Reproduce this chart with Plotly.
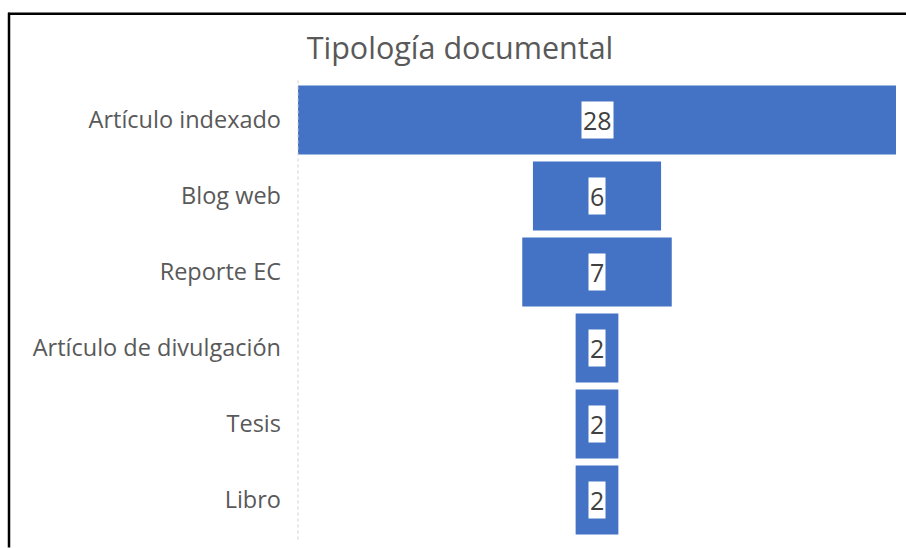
import plotly.graph_objects as go

categories = ["Artículo indexado", "Blog web", "Reporte EC", "Artículo de divulgación", "Tesis", "Libro"]
values = [28, 6, 7, 2, 2, 2]
title_text = "Tipología documental"

W, H = 906, 548
ml, mr, mt, mb = 298, 10, 81.5, 9.5
pw, ph = W - ml - mr, H - mt - mb

def px_to_paper_x(px):
    return (px - ml) / pw

def px_to_paper_y(py):
    return 1 - (py - mt) / ph

fig = go.Figure()
fig.add_trace(go.Funnel(
    y=categories,
    x=values,
    orientation="h",
    marker=dict(color="#4472C4", line=dict(width=0)),
    connector=dict(visible=False),
    textinfo="none",
    hoverinfo="x+y",
))

for c, v in zip(categories, values):
    fig.add_annotation(
        x=0, y=c, xref="x", yref="y",
        text=str(v), showarrow=False,
        font=dict(family="Open Sans", size=25, color="#404040"),
        bgcolor="white", borderpad=1,
    )

shapes = [
    # dotted axis line
    dict(type="line", xref="paper", yref="paper",
         x0=px_to_paper_x(298), x1=px_to_paper_x(298),
         y0=px_to_paper_y(80), y1=px_to_paper_y(541),
         line=dict(color="#d0d0d0", width=1, dash="dot")),
    # frame top
    dict(type="line", xref="paper", yref="paper",
         x0=px_to_paper_x(8), x1=px_to_paper_x(906),
         y0=px_to_paper_y(13), y1=px_to_paper_y(13),
         line=dict(color="black", width=2.5)),
    # frame left
    dict(type="line", xref="paper", yref="paper",
         x0=px_to_paper_x(9), x1=px_to_paper_x(9),
         y0=px_to_paper_y(12), y1=px_to_paper_y(548),
         line=dict(color="black", width=2.5)),
]

fig.update_layout(
    width=W, height=H,
    margin=dict(l=ml, r=mr, t=mt, b=mb, pad=0),
    paper_bgcolor="white", plot_bgcolor="white",
    showlegend=False,
    funnelgap=0.09,
    title=dict(text=title_text, x=460 / W, xanchor="center",
               y=1 - 48 / H, yanchor="middle",
               font=dict(family="Open Sans", size=30.5, color="#595959")),
    xaxis=dict(range=[-14, 14], visible=False, fixedrange=True),
    yaxis=dict(autorange="reversed", showline=False, showgrid=False, zeroline=False,
               ticks="", ticklabelstandoff=16,
               tickfont=dict(family="Open Sans", size=23.5, color="#595959")),
    shapes=shapes,
)

fig.write_html("out.html")
